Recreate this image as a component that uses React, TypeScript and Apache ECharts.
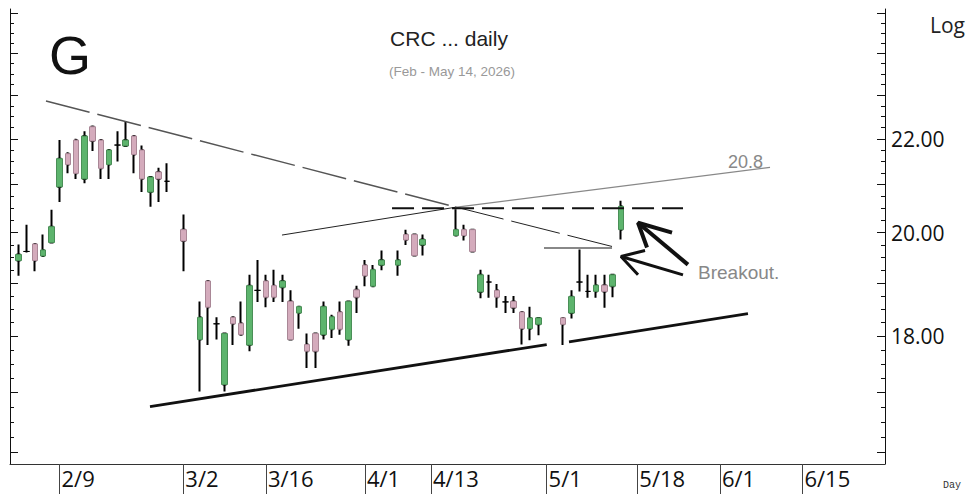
import React, { useEffect, useRef } from "react";
import * as echarts from "echarts";

// ---- calendar (weekdays shown on the x axis) ----
const CAL_START = "2026-01-30";
const CAL_END = "2026-06-29";
const X_TICK_LABELS = ["2/9", "3/2", "3/16", "4/1", "4/13", "5/1", "5/18", "6/1", "6/15"];

// ---- daily candles ----
const DATES = [
  "2/2", "2/3", "2/4", "2/5", "2/6", "2/9", "2/10", "2/11", "2/12", "2/13",
  "2/16", "2/17", "2/18", "2/19", "2/20", "2/23", "2/24", "2/25", "2/26", "3/2",
  "3/4", "3/5", "3/6", "3/9", "3/10", "3/11", "3/12", "3/13", "3/16", "3/17",
  "3/18", "3/19", "3/20", "3/23", "3/24", "3/25", "3/26", "3/27", "3/30", "3/31",
  "4/1", "4/2", "4/3", "4/7", "4/8", "4/9", "4/10", "4/16", "4/17", "4/20",
  "4/21", "4/22", "4/23", "4/24", "4/27", "4/28", "4/29", "4/30", "5/5", "5/6",
  "5/7", "5/8", "5/11", "5/12", "5/13", "5/14",
];
const OPEN = [
  19.44, 19.62, 19.77, 19.53, 19.80, 20.95, 21.67, 21.97, 21.12, 22.27,
  21.97, 21.43, 21.86, 21.84, 22.06, 21.75, 20.84, 21.27, 21.07, 20.06,
  17.94, 19.04, 18.23, 17.14, 18.35, 18.24, 17.84, 18.86, 19.04, 18.95,
  18.92, 18.65, 18.43, 17.85, 18.05, 18.03, 18.13, 18.45, 17.94, 18.87,
  19.35, 18.94, 19.35, 19.35, 19.96, 19.96, 19.75, 19.94, 20.06, 20.06,
  18.83, 19.02, 18.86, 18.64, 18.65, 18.45, 18.14, 18.22, 18.34, 18.43,
  19.02, 18.84, 18.84, 18.96, 18.94, 20.06,
];
const HIGH = [
  19.76, 20.16, 19.78, 19.96, 20.47, 21.97, 21.70, 22.00, 22.17, 22.30,
  21.99, 21.76, 22.17, 22.40, 22.07, 21.85, 21.17, 21.36, 21.46, 20.37,
  18.65, 19.05, 18.35, 18.06, 18.36, 18.65, 19.16, 19.45, 19.16, 19.26,
  19.16, 18.86, 18.56, 18.05, 18.06, 18.65, 18.40, 18.65, 18.66, 18.95,
  19.45, 19.35, 19.64, 19.64, 20.06, 19.97, 19.96, 20.48, 20.16, 20.07,
  19.26, 19.16, 18.98, 18.75, 18.75, 18.46, 18.55, 18.35, 18.35, 18.86,
  19.66, 19.16, 19.16, 19.16, 19.17, 20.66,
];
const LOW = [
  19.14, 19.60, 19.23, 19.52, 19.78, 20.63, 21.24, 21.12, 21.03, 21.73,
  21.12, 21.12, 21.50, 21.83, 21.24, 20.84, 20.53, 20.63, 20.84, 19.23,
  17.02, 17.84, 17.94, 17.02, 17.84, 18.02, 17.73, 18.64, 18.54, 18.64,
  18.64, 17.93, 18.14, 17.43, 17.43, 17.94, 17.97, 18.03, 17.83, 18.43,
  18.94, 18.93, 19.25, 19.14, 19.75, 19.53, 19.54, 19.93, 19.84, 19.61,
  18.71, 18.72, 18.53, 18.43, 18.43, 17.85, 17.93, 18.02, 17.84, 18.33,
  18.84, 18.72, 18.72, 18.53, 18.73, 19.86,
];
const CLOSE = [
  19.56, 19.62, 19.44, 19.65, 20.12, 21.56, 21.43, 21.24, 22.06, 21.95,
  21.35, 21.75, 21.86, 21.97, 21.65, 21.12, 21.16, 21.12, 21.07, 19.83,
  18.35, 18.54, 18.23, 18.05, 18.23, 18.03, 18.95, 18.86, 18.73, 18.73,
  19.04, 17.94, 18.55, 17.73, 17.73, 18.55, 18.36, 18.13, 18.65, 18.73,
  19.14, 19.26, 19.45, 19.45, 19.85, 19.54, 19.86, 20.06, 19.94, 19.62,
  19.16, 19.02, 18.73, 18.64, 18.53, 18.14, 18.34, 18.34, 18.22, 18.74,
  19.02, 18.84, 18.96, 18.84, 19.16, 20.54,
];

// ---- price axis ----
const Y_MIN = 15.81;
const Y_MAX = 25.1;
const Y_LABELS = [18, 20, 22];
const Y_MAJOR_TICKS = [16, 17, 18, 19, 20, 21, 22, 23, 24, 25];
const Y_MINOR_TICKS = [
  16.25, 16.5, 16.75, 17.25, 17.5, 17.75, 18.25, 18.5, 18.75, 19.25, 19.5, 19.75,
  20.25, 20.5, 20.75, 21.25, 21.5, 21.75, 22.25, 22.5, 22.75, 23.25, 23.5, 23.75,
  24.25, 24.5, 24.75,
];

// ---- hand-drawn annotations: [weekday index, price] ----
const RESIST_LEFT = [[4.36, 22.86], [53.91, 20.53]];
const RESIST_RIGHT = [[53.91, 20.53], [72.93, 19.72]];
const RISE_LEFT = [[32.95, 19.95], [53.91, 20.52]];
const RISE_RIGHT = [[53.91, 20.52], [92.07, 21.37]];
const BREAK_LEVEL = [[46.28, 20.5], [81.53, 20.5]];
const BREAK_SHORT = [[64.69, 19.69], [72.93, 19.69]];
const SUPPORT_1 = [[16.96, 16.76], [65.02, 17.85]];
const SUPPORT_2 = [[67.72, 17.9], [89.4, 18.42]];
const ARROW_A_SHAFT = [[82.13, 19.36], [76.08, 20.2]];
const ARROW_A_HEAD = [[80.2, 20.0], [76.08, 20.2], [77.17, 19.7]];
const ARROW_B_SHAFT = [[81.53, 19.16], [74.02, 19.52]];
const ARROW_B_HEAD = [[76.93, 19.64], [74.02, 19.52], [76.08, 19.16]];

const GREEN = "#5db46d";
const GREEN_EDGE = "#4a8f57";
const PINK = "#d4abbc";
const PINK_EDGE = "#a98796";

function weekdays(start: string, end: string): string[] {
  const out: string[] = [];
  const d = new Date(start + "T00:00:00Z");
  const e = new Date(end + "T00:00:00Z");
  while (d <= e) {
    const w = d.getUTCDay();
    if (w !== 0 && w !== 6) out.push(`${d.getUTCMonth() + 1}/${d.getUTCDate()}`);
    d.setUTCDate(d.getUTCDate() + 1);
  }
  return out;
}

const ln = Math.log;

export default function App() {
  const ref = useRef<HTMLDivElement>(null);

  useEffect(() => {
    if (!ref.current) return;
    const chart = echarts.init(ref.current, undefined, { renderer: "svg" });
    const cal = weekdays(CAL_START, CAL_END);
    const showTick = (_i: number, v: string) => X_TICK_LABELS.includes(v);

    const wickData = DATES.map((d, i) => [d, ln(OPEN[i]), ln(CLOSE[i]), ln(LOW[i]), ln(HIGH[i])]);
    const bodyData = DATES.map((d, i) => [
      d,
      ln(OPEN[i]),
      ln(CLOSE[i]),
      ln(Math.min(OPEN[i], CLOSE[i])),
      ln(Math.max(OPEN[i], CLOSE[i])),
    ]);

    const toLn = (pts: number[][]) => pts.map(([x, p]) => [x, ln(p)]);
    const line = (pts: number[][], color: string, width: number, type: any = "solid") => ({
      type: "line",
      xAxisIndex: 1,
      yAxisIndex: 0,
      data: toLn(pts),
      symbol: "none",
      silent: true,
      z: 3,
      lineStyle: { color, width, type, cap: "butt" },
    });

    const yBase = {
      type: "value",
      min: ln(Y_MIN),
      max: ln(Y_MAX),
      splitLine: { show: false },
      axisLabel: { show: false },
      axisLine: { show: false, onZero: false },
      axisTick: { show: false },
    };
    const tickAxis = (position: string, values: number[], length: number) => ({
      ...yBase,
      position,
      axisTick: {
        show: true,
        inside: true,
        length,
        customValues: values.map(ln),
        lineStyle: { color: "#111", width: 1 },
      },
    });

    const option: any = {
      animation: false,
      backgroundColor: "#ffffff",
      grid: { left: 10, right: 87, top: 9, bottom: 30, containLabel: false },
      xAxis: [
        {
          type: "category",
          data: cal,
          boundaryGap: false,
          axisLine: { show: true, onZero: false, lineStyle: { color: "#333", width: 1 } },
          axisTick: { show: true, interval: showTick, length: 30, lineStyle: { color: "#444", width: 1 } },
          axisLabel: {
            interval: showTick,
            align: "left",
            verticalAlign: "top",
            margin: 3,
            padding: [0, 0, 0, 2],
            fontSize: 22,
            fontFamily: "Open Sans",
            color: "#111",
          },
          splitLine: { show: false },
        },
        { type: "value", min: 0, max: cal.length - 1, show: false },
      ],
      yAxis: [
        {
          ...yBase,
          position: "right",
          axisLine: { show: true, onZero: false, lineStyle: { color: "#111", width: 1 } },
          axisLabel: {
            show: true,
            customValues: Y_LABELS.map(ln),
            formatter: (v: number) => Math.exp(v).toFixed(2),
            fontSize: 21,
            fontFamily: "Open Sans",
            color: "#111",
            margin: 6,
          },
        },
        tickAxis("right", Y_MINOR_TICKS, 4),
        tickAxis("right", Y_MAJOR_TICKS, 8),
        {
          ...yBase,
          position: "left",
          axisLine: { show: true, onZero: false, lineStyle: { color: "#111", width: 1 } },
        },
        tickAxis("left", Y_MINOR_TICKS, 4),
        tickAxis("left", Y_MAJOR_TICKS, 8),
      ],
      series: [
        {
          type: "candlestick",
          name: "wick",
          data: wickData,
          encode: { x: 0, y: [1, 2, 3, 4] },
          barWidth: 2,
          silent: true,
          itemStyle: {
            color: "#000",
            color0: "#000",
            borderColor: "#000",
            borderColor0: "#000",
            borderColorDoji: "#000",
            borderWidth: 2,
          },
          z: 2,
        },
        {
          type: "candlestick",
          name: "body",
          data: bodyData,
          encode: { x: 0, y: [1, 2, 3, 4] },
          barWidth: 6,
          silent: true,
          itemStyle: {
            color: GREEN,
            color0: PINK,
            borderColor: GREEN_EDGE,
            borderColor0: PINK_EDGE,
            borderColorDoji: "#000",
            borderWidth: 1,
          },
          z: 2,
        },
        line(RESIST_LEFT, "#555", 1.5, [45, 8]),
        line(RESIST_RIGHT, "#222", 1, [50, 8]),
        line(RISE_LEFT, "#222", 1),
        line(RISE_RIGHT, "#888", 1.2),
        line(BREAK_LEVEL, "#111", 2, [22, 8]),
        line(BREAK_SHORT, "#888", 2),
        line(SUPPORT_1, "#111", 2.8),
        line(SUPPORT_2, "#111", 2.8),
        line(ARROW_A_SHAFT, "#111", 4),
        line(ARROW_A_HEAD, "#111", 4),
        line(ARROW_B_SHAFT, "#111", 3),
        line(ARROW_B_HEAD, "#111", 3),
      ],
      graphic: [
        {
          type: "text",
          x: 49,
          y: 55,
          style: { text: "G", fontSize: 54, fontFamily: "Liberation Sans", fill: "#111", align: "left", verticalAlign: "middle" },
        },
        {
          type: "text",
          x: 449,
          y: 38,
          style: { text: "CRC ... daily", fontSize: 21, fontFamily: "Liberation Sans", fill: "#222", align: "center", verticalAlign: "middle" },
        },
        {
          type: "text",
          x: 452,
          y: 71,
          style: { text: "(Feb - May 14, 2026)", fontSize: 13.5, fontFamily: "Liberation Sans", fill: "#999", align: "center", verticalAlign: "middle" },
        },
        {
          type: "text",
          x: 930,
          y: 25,
          style: { text: "Log", fontSize: 21, fontFamily: "Open Sans", fill: "#222", align: "left", verticalAlign: "middle" },
        },
        {
          type: "text",
          x: 728,
          y: 162,
          style: { text: "20.8", fontSize: 18, fontFamily: "Liberation Sans", fill: "#888", align: "left", verticalAlign: "middle" },
        },
        {
          type: "text",
          x: 698,
          y: 272,
          style: { text: "Breakout.", fontSize: 19, fontFamily: "Liberation Sans", fill: "#888", align: "left", verticalAlign: "middle" },
        },
        {
          type: "text",
          x: 943,
          y: 485,
          style: { text: "Day", fontSize: 10, fontFamily: "Liberation Mono", fill: "#333", align: "left", verticalAlign: "middle" },
        },
      ],
    };

    chart.setOption(option);
    return () => chart.dispose();
  }, []);

  return (
    <div
      ref={ref}
      style={{ position: "fixed", left: 0, top: 0, width: 972, height: 494, background: "#fff" }}
    />
  );
}
